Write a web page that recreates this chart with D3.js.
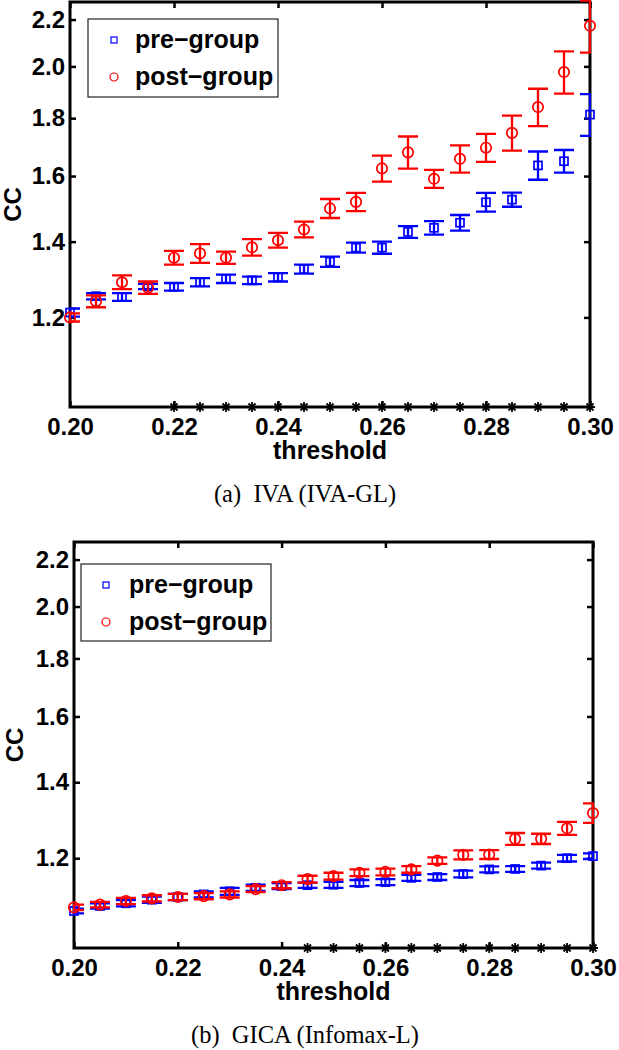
<!DOCTYPE html>
<html>
<head>
<meta charset="utf-8">
<script src="https://cdn.jsdelivr.net/npm/d3@7"></script>
<style>
  html, body { margin: 0; padding: 0; background: #fff; }
  svg { display: block; }
</style>
</head>
<body>
<svg id="chart" width="619" height="1050"></svg>
<script>
// ---------------- data ----------------
const thresholds = [0.200, 0.205, 0.210, 0.215, 0.220, 0.225, 0.230, 0.235, 0.240, 0.245, 0.250,
                    0.255, 0.260, 0.265, 0.270, 0.275, 0.280, 0.285, 0.290, 0.295, 0.300];
const seriesNames = ["pre\u2212group", "post\u2212group"];
const xTicks = [0.20, 0.22, 0.24, 0.26, 0.28, 0.30];
const yTicks = [1.2, 1.4, 1.6, 1.8, 2.0, 2.2];
const yDomain = [1.0, 2.28];

// (a) IVA (IVA-GL)
const ivaPre     = [1.212, 1.253, 1.251, 1.278, 1.277, 1.289, 1.298, 1.294, 1.302, 1.324, 1.344,
                    1.383, 1.383, 1.428, 1.440, 1.455, 1.517, 1.525, 1.635, 1.649, 1.813];
const ivaPreErr  = [0.010, 0.008, 0.010, 0.007, 0.010, 0.011, 0.011, 0.010, 0.011, 0.012, 0.014,
                    0.014, 0.017, 0.017, 0.020, 0.023, 0.029, 0.022, 0.047, 0.038, 0.077];
const ivaPost    = [1.200, 1.240, 1.289, 1.275, 1.355, 1.367, 1.355, 1.384, 1.404, 1.435, 1.498,
                    1.518, 1.625, 1.679, 1.591, 1.657, 1.695, 1.747, 1.841, 1.977, 2.172];
const ivaPostErr = [0.010, 0.015, 0.018, 0.016, 0.019, 0.026, 0.017, 0.023, 0.021, 0.023, 0.029,
                    0.028, 0.043, 0.055, 0.029, 0.046, 0.048, 0.062, 0.070, 0.085, 0.115];
const ivaStars   = [0.220, 0.225, 0.230, 0.235, 0.240, 0.245, 0.250, 0.255, 0.260, 0.265, 0.270,
                    0.275, 0.280, 0.285, 0.290, 0.295, 0.300];

// (b) GICA (Infomax-L)
const gicaPre     = [1.078, 1.089, 1.095, 1.103, 1.109, 1.115, 1.122, 1.130, 1.134, 1.136, 1.137,
                     1.141, 1.143, 1.153, 1.155, 1.162, 1.173, 1.174, 1.182, 1.200, 1.205];
const gicaPreErr  = [0.005, 0.006, 0.007, 0.007, 0.007, 0.007, 0.008, 0.007, 0.007, 0.006, 0.007,
                     0.007, 0.007, 0.007, 0.007, 0.008, 0.007, 0.007, 0.007, 0.008, 0.007];
const gicaPost    = [1.086, 1.092, 1.100, 1.106, 1.109, 1.111, 1.115, 1.127, 1.136, 1.150, 1.157,
                     1.165, 1.167, 1.173, 1.194, 1.208, 1.209, 1.248, 1.248, 1.275, 1.315];
const gicaPostErr = [0.006, 0.006, 0.007, 0.007, 0.007, 0.007, 0.007, 0.007, 0.007, 0.008, 0.008,
                     0.008, 0.008, 0.008, 0.008, 0.011, 0.011, 0.015, 0.013, 0.017, 0.026];
const gicaStars   = [0.245, 0.250, 0.255, 0.260, 0.265, 0.270, 0.275, 0.280, 0.285, 0.290, 0.295, 0.300];

// ---------------- drawing ----------------
const svg = d3.select("#chart");
const FONT = "Liberation Sans, Arial, Helvetica, sans-serif";
const BLUE = "#0000ff", RED = "#ff0000";

function drawPanel(cfg, pre, preErr, post, postErr, stars, idx) {
  const x = d3.scaleLinear().domain([0.2, 0.3]).range([cfg.left, cfg.right]);
  const y = d3.scaleLog().domain(yDomain).range([cfg.bottom, cfg.top]);
  const g = svg.append("g");

  // clip for error bars (caps are clipped at the axes)
  const clipId = "clip" + idx;
  svg.append("clipPath").attr("id", clipId).append("rect")
    .attr("x", cfg.left - 1).attr("y", 0)
    .attr("width", cfg.right - cfg.left + 2).attr("height", 1050);

  // axes
  const axL = g.append("g").attr("transform", `translate(${cfg.left},0)`)
    .call(d3.axisLeft(y).tickValues(yTicks).tickFormat(d3.format(".1f")).tickSize(-6).tickPadding(5));
  const axR = g.append("g").attr("transform", `translate(${cfg.right},0)`)
    .call(d3.axisRight(y).tickValues(yTicks).tickFormat("").tickSize(-6));
  const axB = g.append("g").attr("transform", `translate(0,${cfg.bottom})`)
    .call(d3.axisBottom(x).tickValues(xTicks).tickFormat(d3.format(".2f")).tickSize(-6).tickPadding(11));
  const axT = g.append("g").attr("transform", `translate(0,${cfg.top})`)
    .call(d3.axisTop(x).tickValues(xTicks).tickFormat("").tickSize(-6));
  [axL, axR, axB, axT].forEach(a => {
    a.select(".domain").remove();
    a.selectAll(".tick line").attr("stroke", "#000").attr("stroke-width", 2.5);
    a.selectAll("text").attr("font-family", FONT).attr("font-weight", "bold")
      .attr("font-size", 24).attr("fill", "#000");
  });

  // frame
  g.append("rect")
    .attr("x", cfg.left).attr("y", cfg.top)
    .attr("width", cfg.right - cfg.left).attr("height", cfg.bottom - cfg.top)
    .attr("fill", "none").attr("stroke", "#000").attr("stroke-width", 3);

  // significance stars on the bottom axis
  const st = g.append("g");
  stars.forEach(t => {
    const cx = x(t), cy = cfg.bottom, r = 5;
    const p = `M${cx},${cy - r}L${cx},${cy + r}M${cx - r},${cy}L${cx + r},${cy}` +
              `M${cx - r * 0.7},${cy - r * 0.7}L${cx + r * 0.7},${cy + r * 0.7}` +
              `M${cx - r * 0.7},${cy + r * 0.7}L${cx + r * 0.7},${cy - r * 0.7}`;
    st.append("path").attr("d", p).attr("stroke", "#000").attr("stroke-width", 1.8).attr("fill", "none");
  });

  // error bars + markers
  const cap = 10;
  function series(vals, errs, color, marker) {
    const eb = g.append("g").attr("clip-path", `url(#${clipId})`)
      .attr("stroke", color).attr("stroke-width", 2.3).attr("fill", "none");
    thresholds.forEach((t, i) => {
      const cx = x(t);
      const yl = y(vals[i] - errs[i]), yu = y(vals[i] + errs[i]);
      eb.append("path").attr("d",
        `M${cx},${yl}L${cx},${yu}M${cx - cap},${yl}L${cx + cap},${yl}M${cx - cap},${yu}L${cx + cap},${yu}`);
    });
    const mk = g.append("g").attr("stroke", color).attr("stroke-width", 1.7).attr("fill", "none");
    thresholds.forEach((t, i) => {
      if (marker === "square") {
        mk.append("rect").attr("x", x(t) - 4).attr("y", y(vals[i]) - 4)
          .attr("width", 8).attr("height", 8);
      } else {
        mk.append("circle").attr("cx", x(t)).attr("cy", y(vals[i])).attr("r", 5.2);
      }
    });
  }
  series(pre, preErr, BLUE, "square");
  series(post, postErr, RED, "circle");

  // legend
  const L = cfg.legend;
  const lg = g.append("g");
  lg.append("rect").attr("x", L.x).attr("y", L.y).attr("width", L.w).attr("height", L.h)
    .attr("fill", "#fff").attr("stroke", "#222").attr("stroke-width", 1.2);
  lg.append("rect").attr("x", L.mx - 3).attr("y", L.sqY - 3).attr("width", 6).attr("height", 6)
    .attr("fill", "none").attr("stroke", BLUE).attr("stroke-width", 1.2);
  lg.append("circle").attr("cx", L.mx).attr("cy", L.circY).attr("r", 4)
    .attr("fill", "none").attr("stroke", RED).attr("stroke-width", 1.2);
  [[seriesNames[0], L.sqY], [seriesNames[1], L.circY]].forEach(([txt, yy]) => {
    lg.append("text").attr("x", L.tx).attr("y", yy + 8)
      .attr("font-family", FONT).attr("font-weight", "bold").attr("font-size", 25)
      .attr("fill", "#000").text(txt);
  });

  // axis titles
  g.append("text").attr("x", (cfg.left + cfg.right) / 2).attr("y", cfg.bottom + 52)
    .attr("text-anchor", "middle").attr("font-family", FONT).attr("font-weight", "bold")
    .attr("font-size", 25).attr("fill", "#000").text("threshold");
  g.append("text")
    .attr("transform", `translate(${cfg.ccX},${(cfg.top + cfg.bottom) / 2}) rotate(-90)`)
    .attr("text-anchor", "middle").attr("font-family", FONT).attr("font-weight", "bold")
    .attr("font-size", 24).attr("fill", "#000").text("CC");

  // caption
  g.append("text").attr("x", 305).attr("y", cfg.capY).attr("text-anchor", "middle")
    .attr("font-family", "Liberation Serif, Times New Roman, serif").attr("font-size", 24.5)
    .attr("fill", "#000").text(cfg.caption);
}

drawPanel({left: 70, right: 590, top: 2, bottom: 407, ccX: 21, capY: 502,
           caption: "(a)\u2002IVA (IVA-GL)",
           legend: {x: 88, y: 19, w: 190, h: 78, mx: 114, sqY: 40, circY: 77, tx: 135}},
          ivaPre, ivaPreErr, ivaPost, ivaPostErr, ivaStars, 0);

drawPanel({left: 74, right: 593, top: 542, bottom: 948, ccX: 23, capY: 1043,
           caption: "(b)\u2002GICA (Infomax-L)",
           legend: {x: 81, y: 564, w: 190, h: 77, mx: 106, sqY: 585, circY: 622, tx: 129}},
          gicaPre, gicaPreErr, gicaPost, gicaPostErr, gicaStars, 1);
</script>
</body>
</html>
